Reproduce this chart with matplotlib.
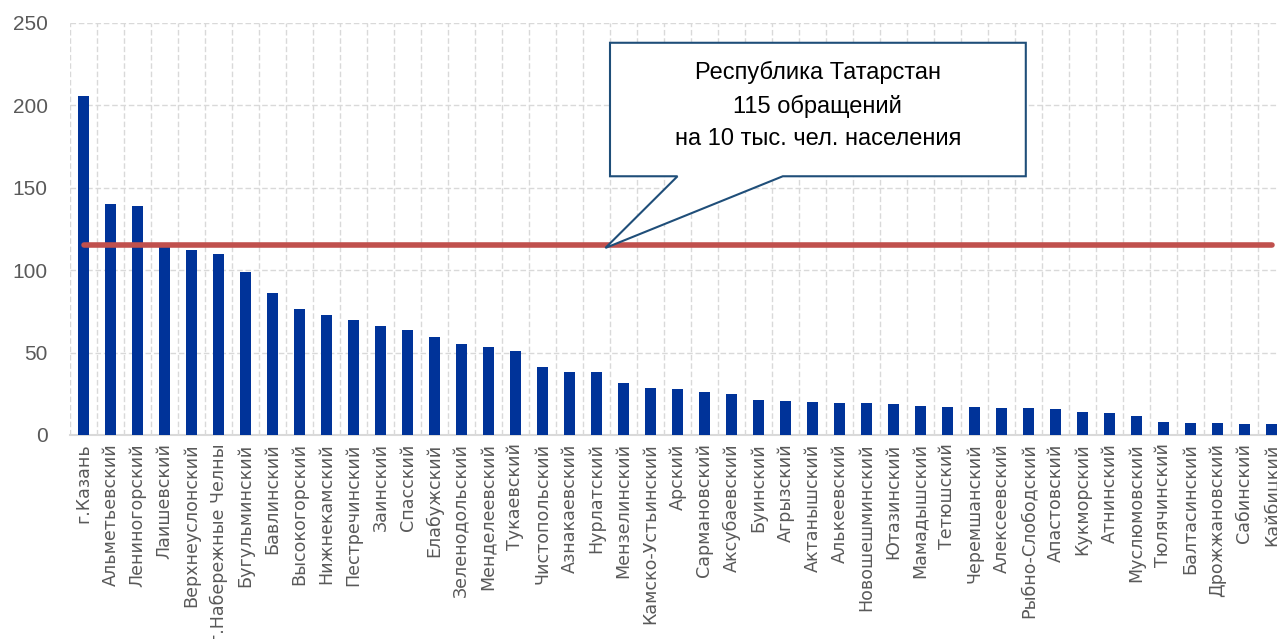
import numpy as np
import matplotlib
matplotlib.use("Agg")
import matplotlib.pyplot as plt
from matplotlib.patches import Polygon

# районы и число обращений на 10 тыс. чел. населения
districts = ["г.Казань", "Альметьевский", "Лениногорский", "Лаишевский", "Верхнеуслонский",
             "г.Набережные Челны", "Бугульминский", "Бавлинский", "Высокогорский", "Нижнекамский",
             "Пестречинский", "Заинский", "Спасский", "Елабужский", "Зеленодольский",
             "Менделеевский", "Тукаевский", "Чистопольский", "Азнакаевский", "Нурлатский",
             "Мензелинский", "Камско-Устьинский", "Арский", "Сармановский", "Аксубаевский",
             "Буинский", "Агрызский", "Актанышский", "Алькеевский", "Новошешминский",
             "Ютазинский", "Мамадышский", "Тетюшский", "Черемшанский", "Алексеевский",
             "Рыбно-Слободский", "Апастовский", "Кукморский", "Атнинский", "Муслюмовский",
             "Тюлячинский", "Балтасинский", "Дрожжановский", "Сабинский", "Кайбицкий"]
values = [206, 140, 139, 114, 112, 110, 99, 86, 76.5, 73,
          69.5, 66.3, 63.5, 59.7, 55.2, 53.4, 50.8, 41, 38.4, 38,
          31.5, 28.7, 27.9, 25.9, 25.1, 21.4, 20.6, 20, 19.6, 19.6,
          18.8, 17.8, 17.2, 16.8, 16.4, 16.3, 15.8, 13.8, 13.2, 11.3,
          7.7, 7.3, 7.3, 6.9, 6.5]
republic_avg = 115
callout_text = "Республика Татарстан\n115 обращений\nна 10 тыс. чел. населения"

W, H = 1277, 639
fig = plt.figure(figsize=(W / 100, H / 100), dpi=100)
ax = fig.add_axes([70 / W, (H - 435) / H, 1215 / W, 412 / H])

x = np.arange(len(districts))
ax.bar(x, values, width=0.38, color="#003399", zorder=3)
ax.plot([x[0], x[-1]], [republic_avg] * 2, color="#C0504D", lw=4, solid_capstyle="round", zorder=4)

ax.set_xlim(-0.5, len(districts) - 0.5)
ax.set_ylim(0, 250)
ax.set_yticks(range(0, 251, 50))
ax.set_xticks(x)
ax.set_xticklabels(districts, rotation=90, fontsize=12.6, color="#595959", family="DejaVu Sans")
ax.tick_params(axis="y", labelsize=15, colors="#595959", length=0, pad=16)
ax.tick_params(axis="x", length=0, pad=6)
for t in ax.get_yticklabels():
    t.set_family("Liberation Sans")

# сетка: горизонтальные и вертикальные пунктирные линии по границам категорий
for yv in range(50, 251, 50):
    ax.axhline(yv, color="#D9D9D9", lw=1, ls=(0, (4, 2)), zorder=1)
for xv in np.arange(-0.5, len(districts), 1.0):
    ax.axvline(xv, color="#D9D9D9", lw=1, ls=(0, (4, 2)), zorder=1)
for s in ["top", "right", "left"]:
    ax.spines[s].set_visible(False)
ax.spines["bottom"].set_color("#D9D9D9")
ax.spines["bottom"].set_linewidth(1.5)

# выноска
bx0, bx1, by0, by1 = 19.5, 34.9, 157, 238
callout = Polygon([(bx0, by1), (bx1, by1), (bx1, by0), (25.9, by0), (19.33, 113.5),
                   (22.0, by0), (bx0, by0)], closed=True, facecolor="white",
                  edgecolor="#1F4E79", lw=1.5, zorder=5, clip_on=False)
ax.add_patch(callout)
ax.text(27.2, 200, callout_text, ha="center", va="center", fontsize=17,
        family="Liberation Sans", linespacing=1.6, color="black", zorder=6)

fig.savefig("out.png", dpi=100)
